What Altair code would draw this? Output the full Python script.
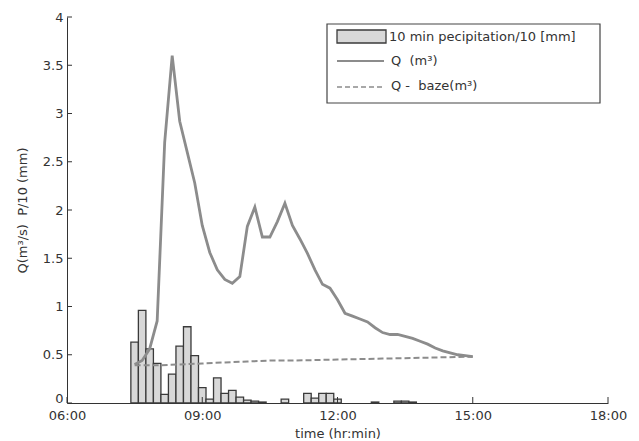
import altair as alt
import pandas as pd

# ---------------- data ----------------
bar_times = ["07:30", "07:40", "07:50", "08:00", "08:10", "08:20", "08:30", "08:40",
             "08:50", "09:00", "09:10", "09:20", "09:30", "09:40", "09:50", "10:00",
             "10:10", "10:20", "10:50", "11:20", "11:30", "11:40", "11:50", "12:00",
             "12:50", "13:20", "13:30", "13:40"]
bar_values = [0.63, 0.96, 0.56, 0.41, 0.09, 0.30, 0.59, 0.79,
              0.49, 0.16, 0.04, 0.26, 0.10, 0.13, 0.06, 0.03,
              0.02, 0.01, 0.04, 0.10, 0.05, 0.10, 0.10, 0.04,
              0.01, 0.02, 0.02, 0.01]

q_times = ["07:30", "07:40", "07:50", "08:00", "08:10", "08:20", "08:30", "08:40",
           "08:50", "09:00", "09:10", "09:20", "09:30", "09:40", "09:50", "10:00",
           "10:10", "10:20", "10:30", "10:40", "10:50", "11:00", "11:10", "11:20",
           "11:30", "11:40", "11:50", "12:00", "12:10", "12:20", "12:30", "12:40",
           "12:50", "13:00", "13:10", "13:20", "13:30", "13:40", "13:50", "14:00",
           "14:10", "14:20", "14:30", "14:40", "14:50", "15:00"]
q_values = [0.40, 0.44, 0.56, 0.85, 2.70, 3.60, 2.92, 2.60,
            2.28, 1.84, 1.56, 1.38, 1.28, 1.24, 1.31, 1.83,
            2.03, 1.72, 1.72, 1.88, 2.07, 1.84, 1.70, 1.55,
            1.38, 1.23, 1.19, 1.07, 0.93, 0.90, 0.87, 0.84,
            0.78, 0.73, 0.71, 0.71, 0.69, 0.67, 0.64, 0.61,
            0.57, 0.54, 0.52, 0.50, 0.49, 0.48]

base_times = ["07:30", "08:00", "08:30", "09:00", "09:30", "10:00", "10:30",
              "11:00", "12:00", "13:00", "14:00", "15:00"]
base_values = [0.39, 0.39, 0.40, 0.41, 0.42, 0.43, 0.44,
               0.44, 0.45, 0.46, 0.47, 0.48]

x_tick_values = [6, 9, 12, 15, 18]
y_tick_values = [0, 0.5, 1, 1.5, 2, 2.5, 3, 3.5, 4]

NB = "\u00a0"
legend_labels = ["10 min pecipitation/10 [mm]", "Q" + NB + NB + "(m³)",
                 "Q -" + NB + NB + "baze(m³)"]
y_title = "Q(m³/s)" + NB + NB + "P/10 (mm)"
x_title = "time (hr:min)"


def to_hours(s):
    h, m = s.split(":")
    return int(h) + int(m) / 60.0


bars_df = pd.DataFrame({"t": [to_hours(s) for s in bar_times], "p": bar_values})
q_df = pd.DataFrame({"t": [to_hours(s) for s in q_times], "q": q_values})
base_df = pd.DataFrame({"t": [to_hours(s) for s in base_times], "q": base_values})
xt_df = pd.DataFrame({"t": x_tick_values})
yt_df = pd.DataFrame({"v": y_tick_values})

# ---------------- layout / style ----------------
W, H = 541, 386
FONT = "DejaVu Sans"
TXT = "#333333"
LINE = "#8c8c8c"
BAR_FILL = "#d8d8d8"
BAR_STROKE = "#3a3a3a"

x_scale = alt.Scale(domain=[6, 18], nice=False, zero=False)
y_scale = alt.Scale(domain=[0, 4], nice=False)

x_axis = alt.Axis(values=x_tick_values,
                  labelExpr="(datum.value < 10 ? '0' : '') + datum.value + ':00'",
                  title=x_title, tickSize=0, grid=False, labelPadding=6,
                  labelFlush=False, titleY=34, titleBaseline="alphabetic")
y_axis = alt.Axis(values=y_tick_values, format="~g", title=y_title,
                  tickSize=0, grid=False, labelPadding=4, titleX=-38,
                  labelOffset={"condition": {"test": "datum.value == 0", "value": -5},
                               "value": 0})

bars = alt.Chart(bars_df).transform_calculate(
    t0="datum.t - 5/60", t1="datum.t + 5/60"
).mark_rect(fill=BAR_FILL, stroke=BAR_STROKE, strokeWidth=1.3).encode(
    x=alt.X("t0:Q", scale=x_scale, axis=x_axis),
    x2="t1:Q",
    y=alt.Y("p:Q", scale=y_scale, axis=y_axis),
    y2=alt.datum(0),
)

q_line = alt.Chart(q_df).mark_line(color=LINE, strokeWidth=2.8).encode(
    x=alt.X("t:Q", scale=x_scale, axis=x_axis),
    y=alt.Y("q:Q", scale=y_scale, axis=y_axis),
)

base_line = alt.Chart(base_df).mark_line(color=LINE, strokeWidth=2,
                                          strokeDash=[6, 3]).encode(
    x=alt.X("t:Q", scale=x_scale, axis=x_axis),
    y=alt.Y("q:Q", scale=y_scale, axis=y_axis),
)

# inward ticks (MATLAB style)
x_ticks = alt.Chart(xt_df).mark_rule(color=TXT, strokeWidth=1).encode(
    x=alt.X("t:Q", scale=x_scale, axis=x_axis),
    y=alt.value(H), y2=alt.value(H - 6),
)
y_ticks = alt.Chart(yt_df).mark_rule(color=TXT, strokeWidth=1).encode(
    y=alt.Y("v:Q", scale=y_scale, axis=y_axis),
    x=alt.value(0), x2=alt.value(5),
)

# ---------------- legend ----------------
one = pd.DataFrame({"k": [0]})
leg_box = alt.Chart(one).mark_rect(fill="white", stroke="#444444",
                                   strokeWidth=1.2).encode(
    x=alt.value(260), x2=alt.value(533), y=alt.value(7), y2=alt.value(86))
leg_swatch = alt.Chart(one).mark_rect(fill=BAR_FILL, stroke=BAR_STROKE,
                                      strokeWidth=1.3).encode(
    x=alt.value(270), x2=alt.value(319), y=alt.value(13), y2=alt.value(26))
leg_solid = alt.Chart(one).mark_rule(color=LINE, strokeWidth=2).encode(
    x=alt.value(270), x2=alt.value(317), y=alt.value(44))
leg_dash = alt.Chart(one).mark_rule(color=LINE, strokeWidth=1.6,
                                    strokeDash=[5, 3]).encode(
    x=alt.value(270), x2=alt.value(317), y=alt.value(70))


def leg_text(label, x, y):
    return alt.Chart(pd.DataFrame({"label": [label]})).mark_text(
        align="left", baseline="middle", font=FONT, fontSize=13, color=TXT
    ).encode(x=alt.value(x), y=alt.value(y), text="label:N")


leg_t1 = leg_text(legend_labels[0], 322, 20)
leg_t2 = leg_text(legend_labels[1], 324, 44)
leg_t3 = leg_text(legend_labels[2], 324, 69)

chart = alt.layer(
    bars, q_line, base_line, x_ticks, y_ticks,
    leg_box, leg_swatch, leg_solid, leg_dash, leg_t1, leg_t2, leg_t3,
).properties(
    width=W, height=H,
    autosize=alt.AutoSizeParams(type="none"),
    padding={"left": 67, "top": 17, "right": 31, "bottom": 38},
    background="white",
).configure_view(stroke=None).configure_axis(
    labelFont=FONT, labelFontSize=13, labelColor=TXT,
    titleFont=FONT, titleFontSize=13, titleColor=TXT, titleFontWeight="normal",
    domainColor=TXT, domainWidth=1,
)

chart.save("out.html", embed_options={"renderer": "svg", "actions": False})
